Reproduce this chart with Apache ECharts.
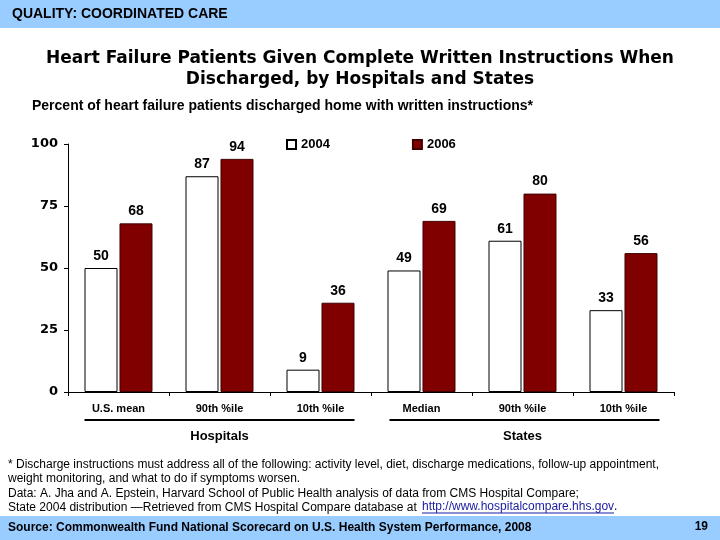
<!DOCTYPE html>
<html><head><meta charset="utf-8">
<script src="https://cdn.jsdelivr.net/npm/echarts@6/dist/echarts.min.js"></script>
<style>html,body{margin:0;padding:0;background:#fff}#c{width:720px;height:540px}</style>
</head><body><div id="c"></div>
<script>
var categories = ['U.S. mean', '90th %ile', '10th %ile', 'Median', '90th %ile', '10th %ile'];
var groups = ['Hospitals', 'States'];
var series2004 = [50, 87, 9, 49, 61, 33];
var series2006 = [68, 94, 36, 69, 80, 56];
var yTicks = [0, 25, 50, 75, 100];

var F = '"Liberation Sans", Arial, sans-serif';
var D = '"DejaVu Sans", sans-serif';
var chart = echarts.init(document.getElementById('c'));
var labelStyle = {show: true, position: 'top', distance: 5, fontFamily: F, fontWeight: 'bold', fontSize: 14, color: '#000'};
var option = {
  animation: false,
  backgroundColor: '#fff',
  title: {
    text: 'Heart Failure Patients Given Complete Written Instructions When\nDischarged, by Hospitals and States',
    left: 'center', top: 43,
    textStyle: {fontFamily: D, fontWeight: 'bold', fontSize: 17, lineHeight: 21, color: '#000'}
  },
  legend: {
    left: 281, top: 133, itemWidth: 9, itemHeight: 9, itemGap: 82, icon: 'rect',
    textStyle: {fontFamily: F, fontWeight: 'bold', fontSize: 13, color: '#000'},
    data: ['2004', '2006']
  },
  grid: {left: 68, right: 46, top: 144, bottom: 148, containLabel: false},
  xAxis: [{
    type: 'category', data: categories,
    axisLine: {lineStyle: {color: '#000'}},
    axisTick: {show: true, length: 4, lineStyle: {color: '#000'}},
    axisLabel: {fontFamily: F, fontWeight: 'bold', fontSize: 11, color: '#000', margin: 11}
  }, {
    type: 'category', data: groups, position: 'bottom', offset: 30,
    axisLine: {show: false}, axisTick: {show: false},
    axisLabel: {fontFamily: F, fontWeight: 'bold', fontSize: 13, color: '#000'}
  }],
  yAxis: {
    type: 'value', min: 0, max: 100, interval: 25,
    axisLine: {show: true, lineStyle: {color: '#000'}},
    axisTick: {show: true, length: 4, lineStyle: {color: '#000'}},
    splitLine: {show: false},
    axisLabel: {fontFamily: D, fontWeight: 'bold', fontSize: 13, color: '#000', margin: 10,
      formatter: function (v) { return yTicks.indexOf(v) >= 0 ? String(v) : ''; }}
  },
  series: [{
    name: '2004', type: 'bar', data: series2004, barWidth: 33, barGap: '6%',
    itemStyle: {color: '#fff', borderColor: '#000', borderWidth: 1},
    label: labelStyle
  }, {
    name: '2006', type: 'bar', data: series2006, barWidth: 33,
    itemStyle: {color: '#800000', borderColor: '#400000', borderWidth: 1},
    label: labelStyle
  }],
  graphic: [
    {type: 'rect', left: 0, top: 0, shape: {width: 720, height: 28}, style: {fill: '#99CCFF'}},
    {type: 'text', left: 12, top: 7, style: {text: 'QUALITY: COORDINATED CARE', font: 'bold 14px ' + F, fill: '#000'}},
    {type: 'text', left: 32, top: 99, style: {text: 'Percent of heart failure patients discharged home with written instructions*', font: 'bold 14px ' + F, fill: '#000'}},
    {type: 'text', left: 8, top: 457, style: {text: '* Discharge instructions must address all of the following: activity level, diet, discharge medications, follow-up appointment,\nweight monitoring, and what to do if symptoms worsen.\nData: A. Jha and A. Epstein, Harvard School of Public Health analysis of data from CMS Hospital Compare;\nState 2004 distribution \u2014Retrieved from CMS Hospital Compare database at', font: '12px ' + F, lineHeight: 14.5, fill: '#000'}},
    {type: 'text', id: 'url', left: 422, top: 500.5, style: {text: 'http://www.hospitalcompare.hhs.gov', font: '12px ' + F, fill: '#1a1aa6'}},
    {type: 'line', shape: {x1: 422, y1: 513, x2: 614, y2: 513}, style: {stroke: '#1a1aa6', lineWidth: 1}},
    {type: 'text', left: 614, top: 500.5, style: {text: '.', font: '12px ' + F, fill: '#000'}},
    {type: 'rect', left: 0, top: 516, shape: {width: 720, height: 24}, style: {fill: '#99CCFF'}},
    {type: 'text', left: 8, top: 522, style: {text: 'Source: Commonwealth Fund National Scorecard on U.S. Health System Performance, 2008', font: 'bold 12px ' + F, fill: '#000'}},
    {type: 'text', right: 12, top: 521, style: {text: '19', font: 'bold 12px ' + F, fill: '#000'}}
  ]
};
chart.setOption(option);
// group underline lines spanning the bars of each group
var p0 = chart.convertToPixel({xAxisIndex: 0}, 0);
var p2 = chart.convertToPixel({xAxisIndex: 0}, 2);
var p3 = chart.convertToPixel({xAxisIndex: 0}, 3);
var p5 = chart.convertToPixel({xAxisIndex: 0}, 5);
var yLine = chart.convertToPixel({yAxisIndex: 0}, 0) + 28;
option.graphic.push(
  {type: 'line', shape: {x1: p0 - 34, y1: yLine, x2: p2 + 34, y2: yLine}, style: {stroke: '#000', lineWidth: 2}},
  {type: 'line', shape: {x1: p3 - 32, y1: yLine, x2: p5 + 36, y2: yLine}, style: {stroke: '#000', lineWidth: 2}}
);
chart.setOption({graphic: option.graphic});
</script></body></html>
